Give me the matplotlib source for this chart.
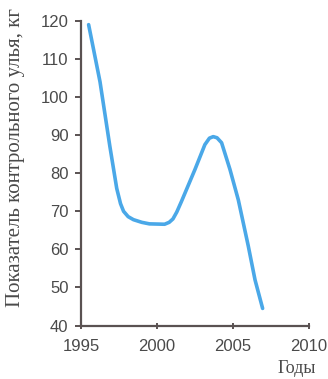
import matplotlib
matplotlib.use("Agg")
import matplotlib.pyplot as plt

years = [1995.5, 1996.25, 1996.9, 1997.35, 1997.6, 1997.8, 1998.1, 1998.45, 1999.0,
         1999.5, 2000.5, 2000.8, 2001.05, 2001.3, 2001.6, 2002.5, 2003.15, 2003.45,
         2003.7, 2003.95, 2004.25, 2004.8, 2005.35, 2006.0, 2006.45, 2006.95]
values = [119, 104, 87, 76, 72, 70, 68.6, 67.8, 67.1,
          66.7, 66.6, 67.1, 68.0, 69.8, 72.5, 81, 87.5, 89.2,
          89.6, 89.3, 88, 81, 73, 61, 52, 44.5]
xticks = [1995, 2000, 2005, 2010]
yticks = [40, 50, 60, 70, 80, 90, 100, 110, 120]
ylabel = "Показатель контрольного улья, кг"
xlabel = "Годы"

axis_col = "#5a5252"
text_col = "#4a4a4a"
line_col = "#4aa8e8"

fig = plt.figure(figsize=(3.28, 3.79), dpi=100)
ax = fig.add_axes([0.247, 0.141, 0.695, 0.804])
ax.plot(years, values, color=line_col, lw=2.6, solid_capstyle="round",
        solid_joinstyle="round")
ax.set_xlim(1995, 2010)
ax.set_ylim(40, 120)
ax.set_xticks(xticks)
ax.set_yticks(yticks)
for s in ["top", "right"]:
    ax.spines[s].set_visible(False)
for s in ["left", "bottom"]:
    ax.spines[s].set_color(axis_col)
    ax.spines[s].set_linewidth(1.6)
tickfont = ["Liberation Sans Narrow", "Liberation Sans", "DejaVu Sans"]
ax.tick_params(axis="y", direction="out", length=4, width=1.4, color=axis_col,
               labelcolor=text_col, labelsize=12, pad=5)
ax.tick_params(axis="x", direction="inout", length=5, width=1.4, color=axis_col,
               labelcolor=text_col, labelsize=12, pad=7)
for lab in ax.get_xticklabels() + ax.get_yticklabels():
    lab.set_family(tickfont)

fig.text(0.048, 0.585, ylabel, rotation=90, ha="center", va="center",
         family=["Liberation Serif", "DejaVu Serif"], fontsize=15, color=text_col)
fig.text(0.905, 0.005, xlabel, ha="center", va="bottom",
         family=["Liberation Serif", "DejaVu Serif"], fontsize=13, color=text_col)

fig.savefig("out.png", dpi=100, facecolor="white")
